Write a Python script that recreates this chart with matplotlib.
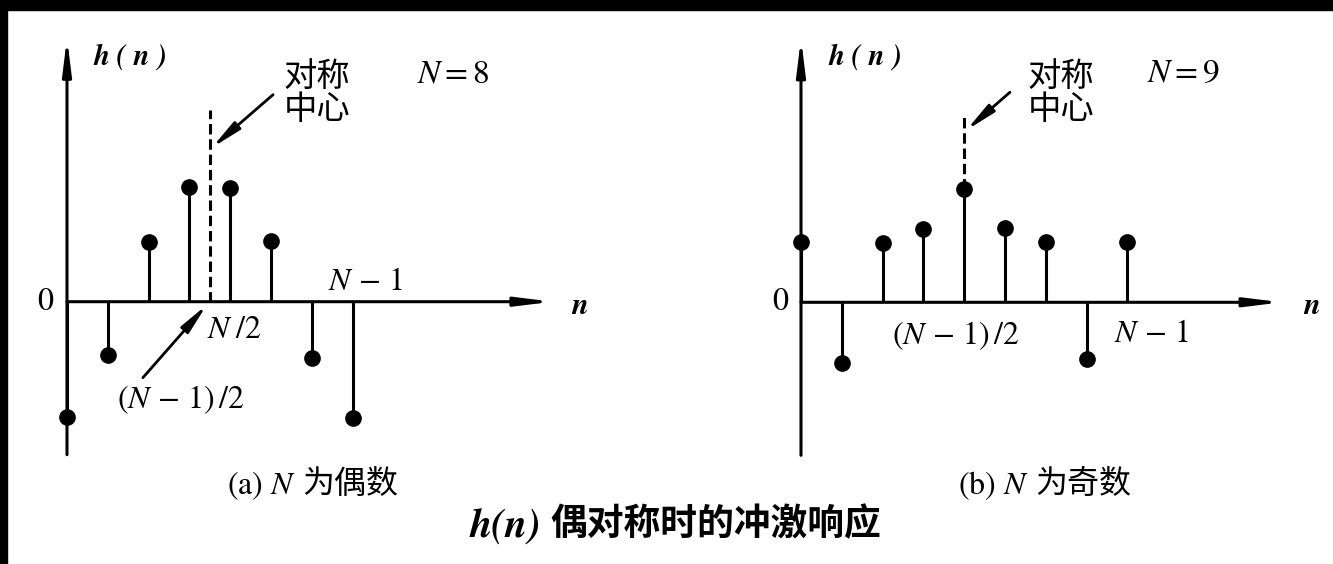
import matplotlib
matplotlib.use("Agg")
import matplotlib.pyplot as plt
from matplotlib.patches import Rectangle

# ---------------- data ----------------
n_even = [0, 1, 2, 3, 4, 5, 6, 7]
h_even = [-1.15, -0.53, 0.60, 1.15, 1.14, 0.61, -0.56, -1.16]
n_odd = [0, 1, 2, 3, 4, 5, 6, 7, 8]
h_odd = [0.60, -0.61, 0.59, 0.73, 1.13, 0.74, 0.60, -0.57, 0.60]
N_values = [8, 9]
panel_tags = ["(a)", "(b)"]
panel_cjk = ["为偶数", "为奇数"]
center_label = "对称\n中心"
title_cjk = "偶对称时的冲激响应"

W, H = 1333, 564
plt.rcParams['mathtext.fontset'] = 'stix'
fig = plt.figure(figsize=(W / 100, H / 100), dpi=100)
fig.patch.set_facecolor('white')

CJK = 'Noto Sans CJK SC'
SERIF = 'STIXGeneral'


def make_axes(pl, pr, pt, pb, x0, y0, dx=40.8, dy=100.0):
    ax = fig.add_axes([pl / W, 1 - pb / H, (pr - pl) / W, (pb - pt) / H])
    ax.set_xlim((pl - x0) / dx, (pr - x0) / dx)
    ax.set_ylim((y0 - pb) / dy, (y0 - pt) / dy)
    ax.set_axis_off()
    return ax


def ftext(x, y, s, ha='center', va='center', **kw):
    fig.text(x / W, 1 - y / H, s, ha=ha, va=va, color='black', **kw)


def draw_frame(ax, xend, ybot, ytop):
    kw = dict(arrowstyle='-|>,head_length=1.05,head_width=0.13', lw=2.2,
              color='black', shrinkA=0, shrinkB=0, mutation_scale=20)
    ax.annotate('', xy=(xend, 0), xytext=(0, 0), arrowprops=kw, annotation_clip=False)
    ax.annotate('', xy=(0, ytop), xytext=(0, ybot), arrowprops=kw, annotation_clip=False)


def draw_stems(ax, n, h):
    ax.vlines(n, 0, h, color='black', lw=2.2, clip_on=False)
    ax.plot(n, h, 'o', color='black', ms=11, clip_on=False, zorder=3)


def pointer(ax, tip, tail):
    ax.annotate('', xy=tip, xytext=tail, annotation_clip=False,
                arrowprops=dict(arrowstyle='-|>,head_length=1.0,head_width=0.16',
                                lw=2.0, color='black', shrinkA=0, shrinkB=0,
                                mutation_scale=18))


dash = (0, (3.4, 1.6))

# ---------------- left panel: N even ----------------
axL = make_axes(15, 660, 15, 480, 67, 301.7)
draw_frame(axL, 11.9, -1.53, 2.64)
draw_stems(axL, n_even, h_even)
cL = (N_values[0] - 1) / 2
axL.plot([cL, cL], [0, 1.92], color='black', lw=2.2, ls=dash, clip_on=False)
pointer(axL, (cL + 0.05, 1.54), (5.05, 2.07))
pointer(axL, (cL - 0.07, -0.03), (1.86, -0.76))

# ---------------- right panel: N odd ----------------
axR = make_axes(745, 1330, 15, 480, 801, 302.3)
draw_frame(axR, 11.78, -1.53, 2.64)
draw_stems(axR, n_odd, h_odd)
cR = (N_values[1] - 1) / 2
axR.plot([cR, cR], [h_odd[4], 1.89], color='black', lw=2.2, ls=dash, clip_on=False)
pointer(axR, (cR + 0.05, 1.72), (5.12, 2.10))

# ---------------- texts ----------------
for dxp, N in zip([0, 735], N_values):
    ftext(130 + dxp, 57, "h ( n )", family=SERIF, style='italic', weight='bold', fontsize=21)
    ftext(45 + dxp, 302, "0", family=SERIF, fontsize=23)
    ftext(580 + dxp - (3 if dxp else 0), 306, "n", family=SERIF, style='italic', weight='bold', fontsize=22)
ftext(453, 73, r"$N=%d$" % N_values[0], fontsize=24)
ftext(1183, 73, r"$N=%d$" % N_values[1], fontsize=24)
ftext(317, 93, center_label, family=CJK, fontsize=24, linespacing=0.95, weight='medium')
ftext(1061, 93, center_label, family=CJK, fontsize=24, linespacing=0.95, weight='medium')

ftext(366, 282, r"$N\,-\,1$", fontsize=23)
ftext(234, 330, r"$N\;/2$", fontsize=23)
ftext(181, 400, r"$(N\,-\,1)\,/2$", fontsize=23)
ftext(956, 336, r"$(N\,-\,1)\,/2$", fontsize=23)
ftext(1152, 333, r"$N\,-\,1$", fontsize=23)

for xr, tag, cj in zip([296, 1029], panel_tags, panel_cjk):
    ftext(xr, 486, tag + " $N$", ha='right', family=SERIF, fontsize=23)
    ftext(xr + 6, 484, cj, ha='left', family=CJK, fontsize=23)

# title
ftext(541, 527, "h(n)", ha='right', family=SERIF, style='italic', weight='bold', fontsize=29)
ftext(550, 525, title_cjk, ha='left', family=CJK, weight='bold', fontsize=26.5)

# scan borders
fig.patches.append(Rectangle((0, 1 - 10 / H), 1, 10 / H, transform=fig.transFigure,
                             color='black', zorder=10))
fig.patches.append(Rectangle((0, 0), 7 / W, 1, transform=fig.transFigure,
                             color='black', zorder=10))

fig.savefig("out.png", dpi=100, facecolor='white')
